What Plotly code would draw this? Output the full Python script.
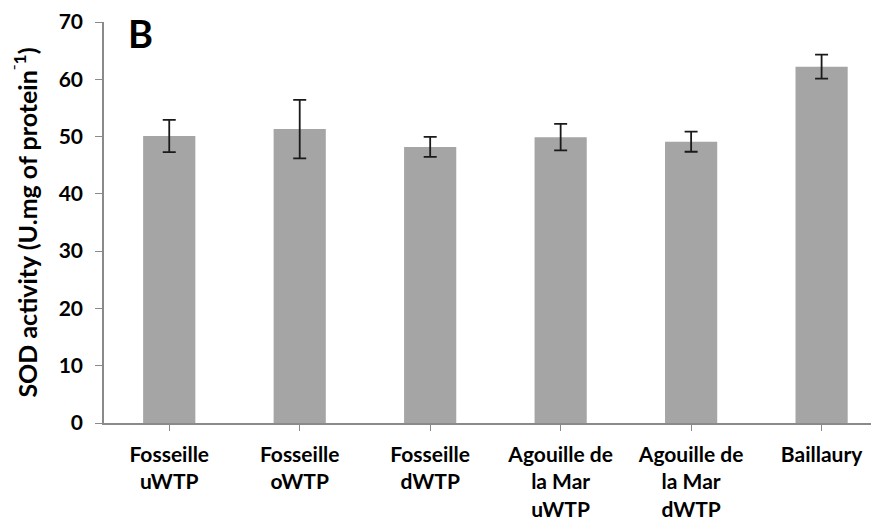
import plotly.graph_objects as go

categories = ["Fosseille<br>uWTP", "Fosseille<br>oWTP", "Fosseille<br>dWTP",
              "Agouille de<br>la Mar<br>uWTP", "Agouille de<br>la Mar<br>dWTP", "Baillaury"]
sod_values = [50.1, 51.3, 48.2, 49.9, 49.1, 62.2]
sod_errors = [2.8, 5.1, 1.75, 2.3, 1.75, 2.1]
y_ticks = [0, 10, 20, 30, 40, 50, 60, 70]

FONT = "Lato"

fig = go.Figure()
fig.add_trace(go.Bar(
    x=list(range(len(categories))),
    y=sod_values,
    marker=dict(color="#A5A5A5", line=dict(width=0)),
    error_y=dict(type="data", array=sod_errors, visible=True,
                 color="#1a1a1a", thickness=1.8, width=6.5),
    width=0.4,
))

fig.update_layout(
    width=871, height=523,
    margin=dict(l=96, r=0, t=14, b=108, autoexpand=False),
    paper_bgcolor="white", plot_bgcolor="white",
    showlegend=False,
    font=dict(family=FONT, color="black"),
    xaxis=dict(
        tickmode="array",
        tickvals=list(range(len(categories))),
        ticktext=categories,
        range=[-0.5, 5.44],
        automargin=False,
        showline=True, linecolor="#8a8a8a", linewidth=1.5,
        ticks="outside", tickson="boundaries", ticklen=6, tickcolor="#8a8a8a",
        tickfont=dict(family=FONT, size=21, color="black", weight="bold"),
        ticklabelstandoff=6,
        showgrid=False, zeroline=False,
    ),
    yaxis=dict(
        range=[0, 70],
        tickmode="array", tickvals=y_ticks,
        automargin=False,
        showline=True, linecolor="#8a8a8a", linewidth=1.5,
        ticks="outside", ticklen=7, tickcolor="#8a8a8a",
        tickfont=dict(family=FONT, size=21, color="black", weight="bold"),
        ticklabelstandoff=8,
        showgrid=False, zeroline=False,
        title=dict(text="SOD activity (U.mg of protein<sup>\u207b1</sup>)",
                   font=dict(family=FONT, size=25, color="black", weight="bold"),
                   standoff=14),
    ),
)

fig.add_annotation(text="<b>B</b>", xref="paper", yref="paper",
                   x=0.028, y=1.034, xanchor="left", yanchor="top",
                   showarrow=False, font=dict(family=FONT, size=38, color="black"))

fig.write_html("out.html")
